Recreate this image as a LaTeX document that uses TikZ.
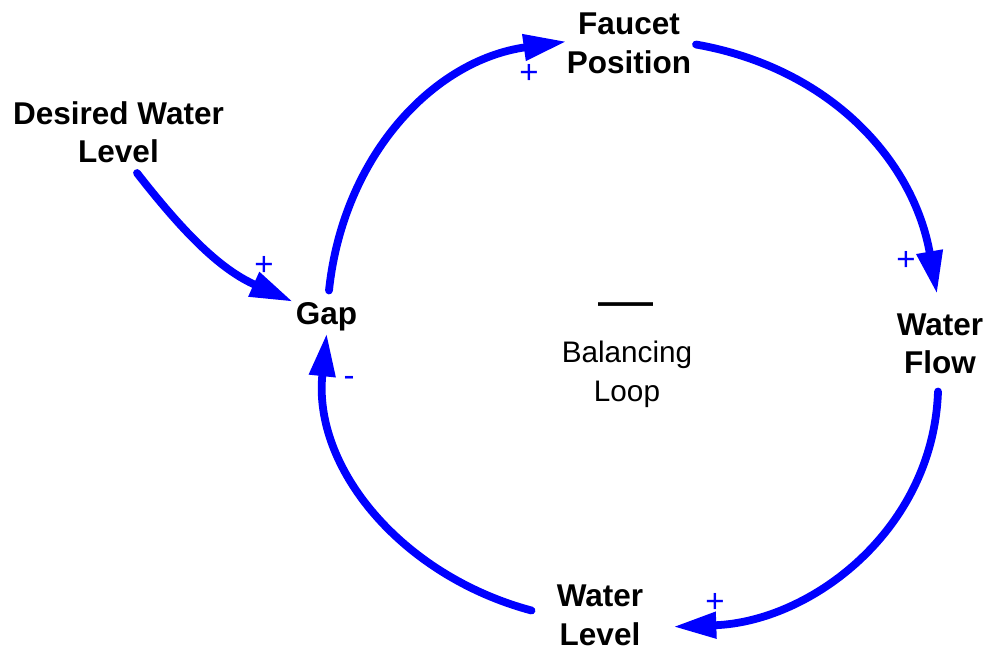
\documentclass[tikz,border=0pt]{standalone}
\usepackage{fontspec}
\setmainfont{Liberation Sans}
\usetikzlibrary{arrows.meta,calc}
\definecolor{linkblue}{RGB}{0,0,255}
\begin{document}
\begin{tikzpicture}[x=1pt,y=1pt,
  var/.style={font=\fontsize{31.5}{38.5}\selectfont\bfseries, align=center, inner sep=0pt, outer sep=0pt},
  pol/.style={font=\fontsize{33}{34}\selectfont, text=linkblue, inner sep=0pt},
  link/.style={draw=linkblue, line width=7.8pt, line cap=round,
               -{Triangle[length=43pt,width=25pt]}}]
% canvas
\fill[white] (0,0) rectangle (990,-654);
\useasboundingbox (0,0) rectangle (990,-654);

% variables
\node[var] (faucet)  at (629,-43.2)   {Faucet\\Position};
\node[var] (desired) at (118.5,-132)  {Desired Water\\Level};
\node[var] (gap)     at (326.5,-317)  {Gap};
\node[var] (flow)    at (940,-344)    {Water\\Flow};
\node[var] (level)   at (600,-615.5)  {Water\\Level};

% loop marker
\node[font=\fontsize{55}{60}\selectfont, inner sep=0pt] (sign) at (625.5,-311) {—};
\node[font=\fontsize{29.7}{39}\selectfont, align=center, inner sep=0pt] (kind) at (627,-374) {Balancing\\Loop};

% causal links
\draw[link] ($(gap)+(2.5,26.5)$)      to[out=84,in=188]  ($(faucet)+(-62.5,1.7)$);
\draw[link] ($(faucet)+(67,-1.3)$)    to[out=-10,in=100] ($(flow)+(-3,50)$);
\draw[link] ($(flow)+(-2,-47.5)$)     to[out=-92,in=2]   ($(level)+(73.3,-11.2)$);
\draw[link] ($(level)+(-68.5,5)$)     to[out=165,in=-96] ($(gap)+(0.2,-16.3)$);
\draw[link] ($(desired)+(18.5,-41)$)  to[out=-52,in=156] ($(gap)+(-33.5,15.3)$);

% link polarities
\node[pol] (p1) at (529,-74)    {+};
\node[pol] (p2) at (906,-261)   {+};
\node[pol] (p3) at (715,-603)   {+};
\node[pol] (p4) at (264,-265.7) {+};
\node[pol] (p5) at (349,-381)   {-};
\end{tikzpicture}
\end{document}
